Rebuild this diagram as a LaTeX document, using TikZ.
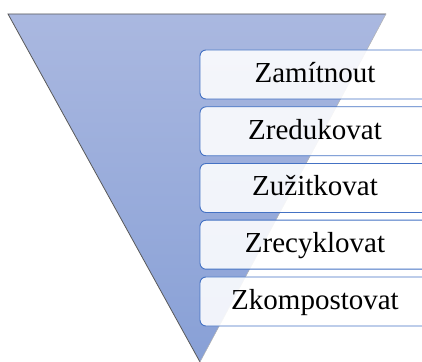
\documentclass[tikz,border=0pt]{standalone}
\usepackage{fontspec}
\setmainfont{Liberation Serif}
\definecolor{funneltop}{RGB}{170,184,224}
\definecolor{funnelbot}{RGB}{136,160,214}
\definecolor{stepline}{RGB}{68,114,196}
\tikzset{
  stepbox/.style={draw=stepline, line width=0.9pt, fill=white, fill opacity=0.88,
    text opacity=1, rounded corners=6pt, minimum width=230pt, minimum height=49pt,
    text height=21pt, text depth=5pt, inner sep=0pt,
    font=\fontsize{29}{34}\selectfont}
}
\begin{document}
\begin{tikzpicture}[x=1pt, y=1pt]
\useasboundingbox (0,0) rectangle (422,361);
%corners of funnel

\coordinate (A) at (8,347);
\coordinate (B) at (386,347);
\coordinate (C) at (200,-1);

%draw funnel
\shade [top color=funneltop, bottom color=funnelbot] (A) -- (B) -- (C) -- cycle;
\draw [gray!70!black, line width=0.8pt] (C) -- (A) -- (B);
\draw [gray!60, line width=0.5pt] (B) -- (C);

%steps
\node [stepbox] (zamitnout) at (315,286.5) {Zamítnout};
\node [stepbox] (zredukovat) at (315,229.7) {Zredukovat};
\node [stepbox] (zuzitkovat) at (315,173) {Zužitkovat};
\node [stepbox] (zrecyklovat) at (315,116.3) {Zrecyklovat};
\node [stepbox] (zkompostovat) at (315,59.5) {Zkompostovat};
\end{tikzpicture}
\end{document}
